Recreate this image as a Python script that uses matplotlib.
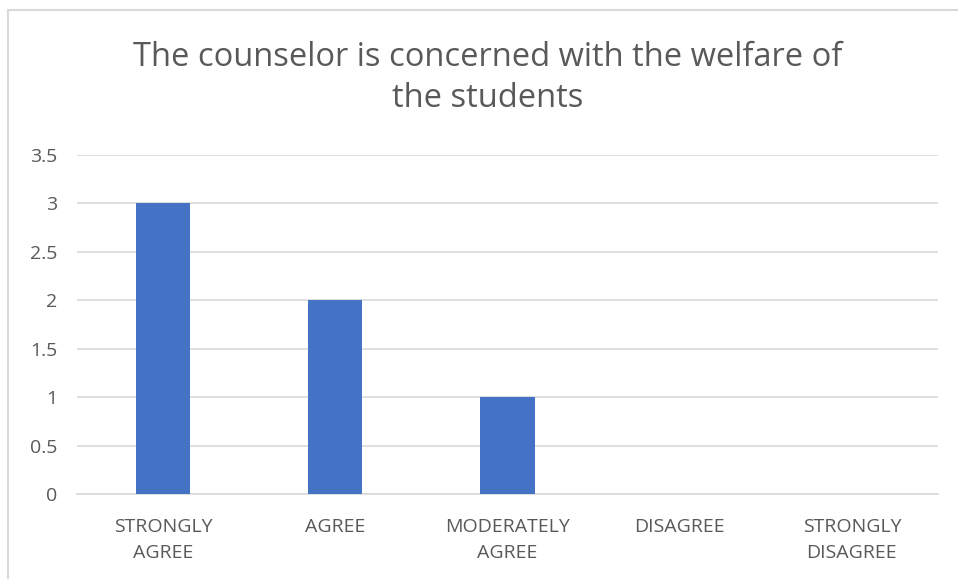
import matplotlib
matplotlib.use("Agg")
import matplotlib.pyplot as plt
from matplotlib.patches import Rectangle

categories = ["STRONGLY\nAGREE", "AGREE", "MODERATELY\nAGREE", "DISAGREE", "STRONGLY\nDISAGREE"]
values = [3, 2, 1, 0, 0]
yticks = [0, 0.5, 1, 1.5, 2, 2.5, 3, 3.5]
title = "The counselor is concerned with the welfare of\nthe students"

W, H = 958, 579
fig = plt.figure(figsize=(W / 100, H / 100), dpi=100)
plt.rcParams['font.family'] = ['Open Sans', 'DejaVu Sans']

# outer frame (only left/top visible)
fig.patches.append(Rectangle((8 / W, -0.1), 1.2, (H - 10) / H + 0.1, transform=fig.transFigure,
                             fill=False, edgecolor='#d9d9d9', linewidth=1.5))

left, right, top, bottom = 77, 938, 155, 494
ax = fig.add_axes([left / W, 1 - bottom / H, (right - left) / W, (bottom - top) / H])
x = range(len(categories))
ax.bar(x, values, width=0.314, color='#4472c4', zorder=3)
ax.set_xlim(-0.5, len(categories) - 0.5)
ax.set_ylim(0, 3.5)
ax.set_yticks(yticks)
ax.set_yticklabels([f"{t:g}" for t in yticks], fontsize=14, color='#595959')
ax.set_xticks(list(x))
ax.set_xticklabels(categories, fontsize=14, color='#595959', linespacing=1.62)
ax.tick_params(axis='both', length=0)
ax.tick_params(axis='x', pad=17)
ax.tick_params(axis='y', pad=14)
ax.grid(axis='y', color='#d9d9d9', linewidth=1.2, zorder=0)
for s in ['left', 'right', 'top']:
    ax.spines[s].set_visible(False)
ax.spines['bottom'].set_color('#d9d9d9')
ax.spines['bottom'].set_linewidth(1.2)

fig.text(488 / W, 1 - 78 / H, title, ha='center', va='center', fontsize=23.5,
         color='#595959', linespacing=1.3)

fig.savefig("out.png", dpi=100)
